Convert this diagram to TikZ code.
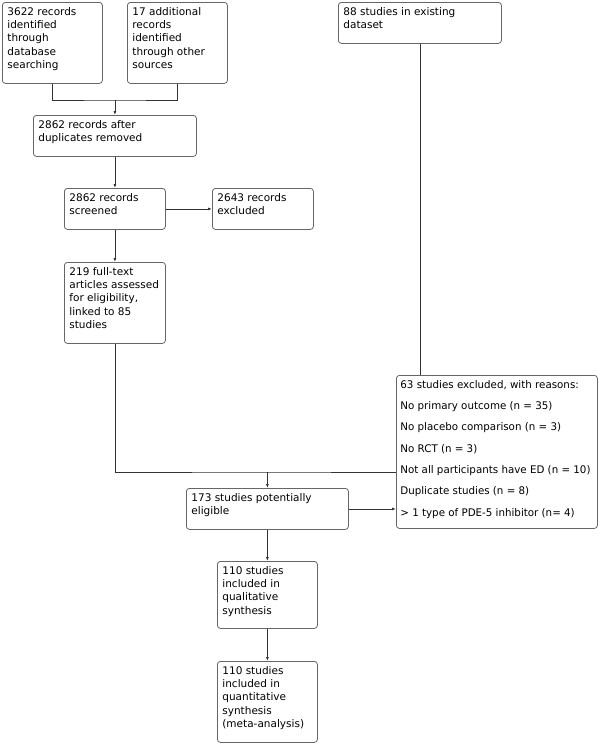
\documentclass[tikz,border=0pt]{standalone}
\usepackage{fontspec}
\setmainfont{DejaVu Sans}
\newfontfamily\narrowsans[FakeStretch=0.98]{DejaVu Sans}
\usetikzlibrary{arrows.meta}
\newcommand{\boxtext}[3]{\parbox[t][#2][t]{#1}{\raggedright #3}}

\begin{document}
\begin{tikzpicture}[x=1pt,y=-1pt,>={Latex[length=4pt,width=3pt]},
    box/.style={draw=black!60,line width=0.8pt,rounded corners=3pt,anchor=north west,inner xsep=5pt,inner ysep=5pt,
      font=\fontsize{10.5}{13.3}\selectfont},
    link/.style={draw=black!80,line width=0.8pt}]
	\useasboundingbox (0,0) rectangle (600,744);

	% identification
	\node[box] (db) at (2,2) {\boxtext{90pt}{71pt}{3622 records\\identified\\through\\database\\searching}};
	\node[box] (other) at (127,2) {\boxtext{90pt}{71pt}{17 additional\\records\\identified\\through other\\sources}};
	\node[box] (existing) at (338,2) {\boxtext{153pt}{31pt}{88 studies in existing\\dataset}};

	% screening
	\node[box] (dup) at (33,115) {\boxtext{153pt}{31pt}{2862 records after\\duplicates removed}};
	\node[box] (screened) at (64,188) {\boxtext{91pt}{31pt}{2862 records\\screened}};
	\node[box] (excl) at (212,188) {\boxtext{91pt}{31pt}{2643 records\\excluded}};
	\node[box] (fulltext) at (64,262) {\boxtext{91pt}{71pt}{219 full-text\\articles assessed\\for eligibility,\\linked to 85\\studies}};

	% eligibility and inclusion
	\node[box,inner xsep=4pt,font=\narrowsans\fontsize{10.5}{21.3}\selectfont] (reasons) at (396,375) {\boxtext{193pt}{143pt}{63 studies excluded, with reasons:\\No primary outcome (n = 35)\\No placebo comparison (n = 3)\\No RCT (n = 3)\\Not all participants have ED (n = 10)\\Duplicate studies (n = 8)\\> 1 type of PDE-5 inhibitor (n= 4)}};
	\node[box] (eligible) at (186,488) {\boxtext{152pt}{31pt}{173 studies potentially\\eligible}};
	\node[box] (qual) at (217,561) {\boxtext{90pt}{57pt}{110 studies\\included in\\qualitative\\synthesis}};
	\node[box] (quant) at (217,661) {\boxtext{90pt}{71pt}{110 studies\\included in\\quantitative\\synthesis\\(meta-analysis)}};

	\coordinate (join1) at (dup.north |- 0,100);
	\coordinate (join2) at (eligible.north |- 0,472);

	\draw[link] (db.south) |- (join1) -| (other.south);
	\draw[link,->] (join1)--(dup.north);
	\draw[link,->] (dup.south)--(screened.north);
	\draw[link,->] (screened.east)--(excl.west);
	\draw[link,->] (screened.south)--(fulltext.north);
	\draw[link] (fulltext.south) |- (join2) -- (join2 -| reasons.west);
	\draw[link] (existing.south)--(existing.south |- reasons.north);
	\draw[link,->] (join2)--(eligible.north);
	\draw[link,->] (eligible.east)--(eligible.east -| reasons.west);
	\draw[link,->] (eligible.south)--(qual.north);
	\draw[link,->] (qual.south)--(quant.north);
\end{tikzpicture}
\end{document}
